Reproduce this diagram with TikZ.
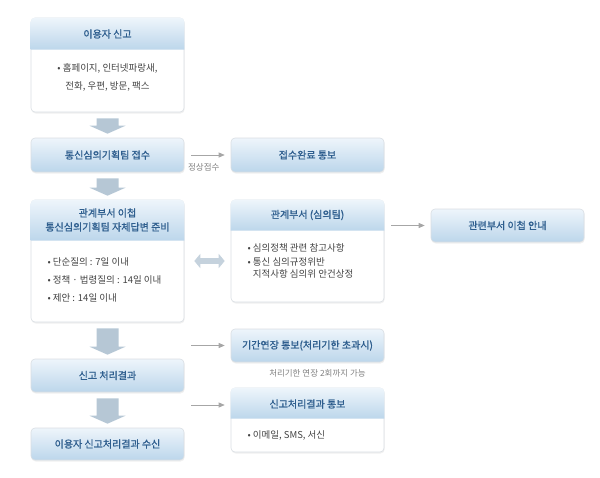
\documentclass[tikz,border=0pt]{standalone}
\usepackage{fontspec}
\setmainfont{Noto Sans CJK KR}[AutoFakeBold=1.2]
\usetikzlibrary{calc,arrows.meta,shadows}
\definecolor{hdtop}{HTML}{EEF5FB}
\definecolor{hdbot}{HTML}{BCD6EB}
\definecolor{hdtext}{HTML}{2E5E8E}
\definecolor{bodytext}{HTML}{444444}
\definecolor{rim}{HTML}{D9DEE3}
\definecolor{barrowc}{HTML}{B6C7D5}

\begin{document}
\begin{tikzpicture}[x=1pt, y=-1pt,
    box/.style = {draw = rim, fill = white, rounded corners = 4pt, line width = 0.6pt,
                  drop shadow = {opacity = 0.12, shadow xshift = 0.6pt, shadow yshift = -1.5pt}},
    hdbox/.style = {box, top color = hdtop, bottom color = hdbot, text = hdtext,
                    font = \bfseries\fontsize{10}{13}\selectfont, align = center,
                    minimum width = 153pt, minimum height = 33pt},
    hdr/.style = {top color = hdtop, bottom color = hdbot},
    hdlabel/.style = {text = hdtext, font = \bfseries\fontsize{10}{14}\selectfont, align = center},
    bodylabel/.style = {text = bodytext, font = \fontsize{9.5}{18}\selectfont},
    note/.style = {text = gray, font = \fontsize{8.5}{10}\selectfont},
    thin/.style = {draw = gray!70, line width = 0.7pt, -{Triangle[length = 6pt, width = 5pt]},
                   shorten < = 7pt, shorten > = 6pt},
    blockar/.style = {fill = barrowc}]
  \useasboundingbox (0,0) rectangle (600,477);

  % boxes with a header and a body
  \node [box, minimum width = 153pt, minimum height = 94pt] (report) at (107.5,65) {};
  \node [box, minimum width = 153pt, minimum height = 122pt] (transfer) at (107.5,261) {};
  \node [box, minimum width = 153pt, minimum height = 102pt] (dept) at (307.5,251) {};
  \node [box, minimum width = 153pt, minimum height = 64pt] (notify) at (307.5,420) {};
  \shade [hdr] ($(report.north west)+(0,32)$) [rounded corners = 4pt] -- (report.north west)
    -- (report.north east) [sharp corners] -- ($(report.north east)+(0,32)$) -- cycle;
  \shade [hdr] ($(transfer.north west)+(0,41)$) [rounded corners = 4pt] -- (transfer.north west)
    -- (transfer.north east) [sharp corners] -- ($(transfer.north east)+(0,41)$) -- cycle;
  \shade [hdr] ($(dept.north west)+(0,31)$) [rounded corners = 4pt] -- (dept.north west)
    -- (dept.north east) [sharp corners] -- ($(dept.north east)+(0,31)$) -- cycle;
  \shade [hdr] ($(notify.north west)+(0,31)$) [rounded corners = 4pt] -- (notify.north west)
    -- (notify.north east) [sharp corners] -- ($(notify.north east)+(0,31)$) -- cycle;

  \node [hdlabel] (reporthd) at (107.5,34) {이용자 신고};
  \node [bodylabel, align = center] (reportbd) at (107.5,77) {• 홈페이지, 인터넷파랑새,\\전화, 우편, 방문, 팩스};
  \node [hdlabel] (transferhd) at (107.5,220) {관계부서 이첩\\통신심의기획팀 자체답변 준비};
  \node [bodylabel, align = left, anchor = west] (transferbd) at (44,280)
    {• 단순질의 : 7일 이내\\• 정책 · 법령질의 : 14일 이내\\• 제안 : 14일 이내};
  \node [hdlabel] (depthd) at (307.5,215) {관계부서 (심의팀)};
  \node [bodylabel, align = left, anchor = north west] (deptbd) at (244,240)
    {• 심의정책 관련 참고사항\\[-4pt]• 통신 심의규정위반\\[-6pt]\phantom{• }지적사항 심의위 안건상정};
  \node [hdlabel] (notifyhd) at (307.5,404) {신고처리결과 통보};
  \node [bodylabel, anchor = west] (notifybd) at (244,435) {• 이메일, SMS, 서신};

  % single boxes
  \node [hdbox, minimum height = 34pt] (receipt) at (107.5,155) {통신심의기획팀 접수};
  \node [hdbox, minimum height = 34pt] (done) at (307.5,155) {접수완료 통보};
  \node [hdbox] (guide) at (507.5,225.5) {관련부서 이첩 안내};
  \node [hdbox] (result) at (107.5,375.5) {신고 처리결과};
  \node [hdbox] (extend) at (307.5,345.5) {기간연장 통보(처리기한 초과시)};
  \node [hdbox, minimum height = 32pt] (recv) at (107.5,444) {이용자 신고처리결과 수신};

  % block arrows
  \foreach \a/\b in {report/receipt, receipt/transfer, transfer/result, result/recv}
    \fill [blockar] ($(\a.south)+(-11,6)$) -- ($(\a.south)+(11,6)$)
      -- ($(\b.north)+(11,-12)$) -- ($(\b.north)+(18,-12)$) -- ($(\b.north)+(0,-4)$)
      -- ($(\b.north)+(-18,-12)$) -- ($(\b.north)+(-11,-12)$) -- cycle;
  \draw [barrowc!80, line width = 6pt, {Triangle[length = 6pt, width = 14pt]}-{Triangle[length = 6pt, width = 14pt]},
         shorten < = 10pt, shorten > = 6pt] (transfer.east) -- (transfer.east -| dept.west);

  % thin arrows
  \draw [thin] (receipt) -- (done) node [note, pos = 0.42, below = 5pt] (normal) {정상접수};
  \draw [thin] (dept.east |- guide) -- (guide);
  \draw [thin] (extend.west -| result.east) -- (extend.west);
  \draw [thin] ($(notify.west -| recv.east)+(0,-15)$) -- ($(notify.west)+(0,-15)$);
  \node [note, anchor = north] (extnote) at ($(extend.south)+(10,4)$) {처리기한 연장 2회까지 가능};
\end{tikzpicture}
\end{document}
